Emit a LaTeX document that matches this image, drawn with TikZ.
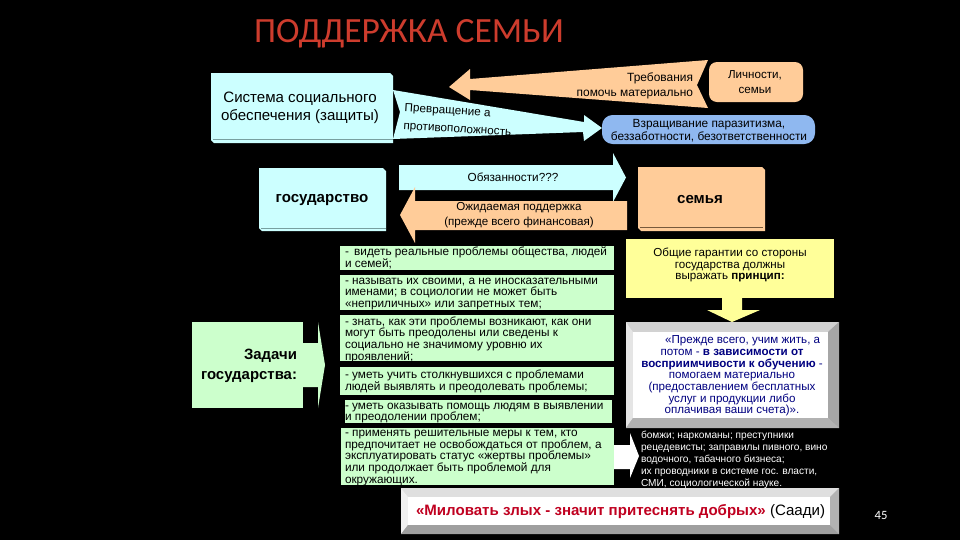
\documentclass[tikz,border=0pt]{standalone}
\usepackage{fontspec}
\setmainfont{Liberation Sans}
\newfontfamily\titlefont{Carlito}
\definecolor{lcyan}{HTML}{CCFFFF}
\definecolor{lorange}{HTML}{FFCC99}
\definecolor{lgreen}{HTML}{CCFFCC}
\definecolor{lyellow}{HTML}{FFFF99}
\definecolor{lblue}{HTML}{8FB8F0}
\definecolor{navy}{HTML}{000080}
\definecolor{quote}{HTML}{C00020}
\definecolor{titlered}{HTML}{CD3C2D}
\definecolor{cyanline}{HTML}{78A0A0}
\definecolor{orangeline}{HTML}{785A3C}
\newcommand{\fsz}[2]{\fontsize{#1}{#2}\selectfont}
\tikzset{
  x=0.75pt,y=-0.75pt,
  plain/.style={inner sep=0pt,outer sep=0pt,text=black},
  boxc/.style={plain,font=\fsz{9}{10.2},align=center},
  greenbox/.style={fill=lgreen},
  tasktext/.style={plain,anchor=west,align=left,font=\fsz{8.85}{8.8}},
  ruleline/.style={draw=#1,line width=0.6pt},
}
\begin{document}
\begin{tikzpicture}
\useasboundingbox (0,0) rectangle (960,540);
\fill[black] (0,0) rectangle (960,540);
\node[plain,anchor=west,text=titlered,font=\titlefont\fsz{26.6}{28}] (title) at (254,34) {ПОДДЕРЖКА СЕМЬИ};

% --- top row
\fill[lcyan] (211,73) -- (390,73) -- (393,76) -- (393,143) -- (214,143) -- (211,140) -- cycle;
\draw[ruleline=cyanline] (213,139.5) -- (393,139.5);
\node[boxc,font=\fsz{11.3}{13.6}] (system) at (300,108) {Система социального\\обеспечения (защиты)};
% orange arrow, left
\fill[lorange] (708,60) -- (697,85) -- (708,108) -- (470,90) -- (470,100) -- (449,87) -- (470,69) -- (470,79) -- cycle;
\node[plain,anchor=east,align=right,font=\fsz{8.95}{10.8}] (demand) at (693,86) {Требования\\помочь материально};
\fill[lorange,rounded corners=6pt] (709,62) rectangle (803,102);
\node[boxc,font=\fsz{8.7}{10.6}] (persons) at (755,82) {Личности,\\семьи};
% cyan wedge arrow, right
\fill[lcyan] (393,90) -- (400,112) -- (393,139) -- (583,132) -- (584,141) -- (602,128) -- (584,115) -- (584,122) -- cycle;
\node[plain,anchor=west,align=left,rotate=-3.5,font=\fsz{8.8}{13.4}] (invert) at (404,117.5) {Превращение а\\противоположность};
\fill[lblue,rounded corners=8pt] (602,115) rectangle (815,144);
\node[boxc,font=\fsz{8.9}{10}] (growth) at (709,130.5) {Взращивание паразитизма,\\беззаботности, безответственности};

% --- state / family row
\fill[lcyan] (259,168) -- (383,168) -- (386,171) -- (386,231) -- (262,231) -- (259,228) -- cycle;
\draw[ruleline=cyanline] (261,228) -- (386,228);
\node[plain,font=\bfseries\fsz{11.3}{13}] (state) at (322,200) {государство};
\fill[lorange] (638,167) -- (762,167) -- (765,170) -- (765,231) -- (641,231) -- (638,228) -- cycle;
\draw[ruleline=orangeline] (640,227.5) -- (763,227.5);
\node[plain,font=\bfseries\fsz{11.3}{13}] (family) at (700,200) {семья};
\fill[lcyan] (399,165) -- (613,165) -- (613,153) -- (626,177.5) -- (613,202) -- (613,190) -- (399,190) -- cycle;
\node[plain,font=\fsz{8.8}{10}] (duty) at (513,177) {Обязанности???};
\fill[lorange] (627,201) -- (627,230) -- (415,230) -- (415,243) -- (400,215) -- (415,187) -- (415,201) -- cycle;
\node[boxc,font=\fsz{8.7}{11}] (support) at (519,215) {Ожидаемая поддержка\\(прежде всего финансовая)};

% --- tasks of the state
\fill[lgreen] (192,322) rectangle (303,408);
\fill[lgreen] (303,343) -- (318,343) -- (318,322) -- (325,365) -- (318,408) -- (318,387) -- (303,387) -- cycle;
\node[plain,anchor=east,align=right,font=\bfseries\fsz{11.2}{15}] (tasks) at (297,366) {Задачи\\государства:};

\fill[greenbox] (340,246) rectangle (614,270);
\node[tasktext] (t1) at (345,258) {- \,видеть реальные проблемы общества, людей\\и семей;};
\fill[greenbox] (340,275) rectangle (614,310);
\node[tasktext] (t2) at (345,294) {- называть их своими, а не иносказательными\\именами; в социологии не может быть\\«неприличных» или запретных тем;};
\fill[greenbox] (340,315) rectangle (614,361);
\node[tasktext] (t3) at (345,339.5) {- знать, как эти проблемы возникают, как они\\могут быть преодолены или сведены к\\социально не значимому уровню их\\проявлений;};
\fill[greenbox] (340,367) rectangle (614,395);
\node[tasktext] (t4) at (345,381.5) {- уметь учить столкнувшихся с проблемами\\людей выявлять и преодолевать проблемы;};
\fill[greenbox] (345,400) rectangle (612,423);
\node[tasktext] (t5) at (345,413) {- уметь оказывать помощь людям в выявлении\\и преодолении проблем;};
\fill[greenbox] (341,428) rectangle (614,485);
\node[tasktext] (t6) at (345,458) {- применять решительные меры к тем, кто\\предпочитает не освобождаться от проблем, а\\эксплуатировать статус «жертвы проблемы»\\или продолжает быть проблемой для\\окружающих.};

% --- right column
\fill[lyellow] (626,239) rectangle (834,298);
\node[boxc,font=\fsz{8.7}{8.8}] (guarantee) at (730,265) {Общие гарантии со стороны\\государства должны\\выражать \textbf{принцип:}};
\fill[lyellow] (722,298) -- (742,298) -- (742,310) -- (760,310) -- (732,322) -- (707,310) -- (722,310) -- cycle;

\fill[gray!50] (626,322) rectangle (839,428);
\fill[gray!35] (626,322) -- (839,322) -- (828,332) -- (633,332) -- cycle;
\fill[gray!20] (626,322) -- (633,332) -- (633,418) -- (626,428) -- cycle;
\fill[gray!70] (839,322) -- (828,332) -- (828,418) -- (839,428) -- cycle;
\fill[gray!60] (626,428) -- (633,418) -- (828,418) -- (839,428) -- cycle;
\fill[white] (633,332) rectangle (828,418);
\node[boxc,text=navy,font=\fsz{8.7}{8.75}] (principle) at (732,376) {\hspace*{16pt}«Прежде всего, учим жить, а\\потом - \textbf{в зависимости от}\\\textbf{восприимчивости к обучению} -\\помогаем материально\\(предоставлением бесплатных\\услуг и продукции либо\\оплачивая ваши счета)».};

\fill[white] (614,445) -- (630,445) -- (630,433) -- (639,456) -- (630,478) -- (630,469) -- (614,469) -- cycle;
\node[plain,text=white,anchor=west,align=left,font=\fsz{7.6}{9}] (victims) at (641,459.5) {бомжи; наркоманы; преступники\\рецедевисты; заправилы пивного, вино\\водочного, табачного бизнеса;\\их проводники в системе гос. власти,\\СМИ, социологической науке.};

% --- bottom quote
\fill[gray!45] (401,488) rectangle (839,534);
\fill[gray!25] (401,488) -- (839,488) -- (830,497) -- (408,497) -- cycle;
\fill[gray!12] (401,488) -- (408,497) -- (408,525) -- (401,534) -- cycle;
\fill[gray!60] (839,488) -- (830,497) -- (830,525) -- (839,534) -- cycle;
\fill[gray!75] (401,534) -- (408,525) -- (830,525) -- (839,534) -- cycle;
\fill[white] (408,497) rectangle (830,525);
\node[plain,anchor=west,font=\fsz{11.3}{13}] (saadi) at (416,511.5) {\textcolor{quote}{\textbf{«Миловать злых - значит притеснять добрых»}} (Саади)};

\node[plain,text=white,font=\titlefont\fsz{9.5}{10}] (page) at (881,515) {45};
\end{tikzpicture}
\end{document}
